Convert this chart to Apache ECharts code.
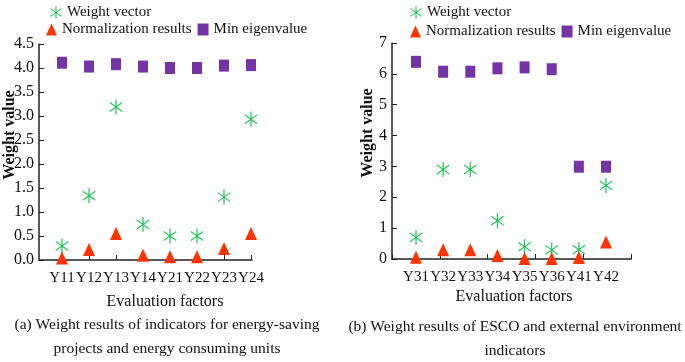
<!DOCTYPE html>
<html>
<head>
<meta charset="utf-8">
<script src="https://cdn.jsdelivr.net/npm/echarts@6/dist/echarts.min.js"></script>
<style>
  html, body { margin: 0; padding: 0; background: #fff; }
  #chart { width: 685px; height: 362px; }
</style>
</head>
<body>
<div id="chart"></div>
<script>
// (a) energy-saving projects / energy consuming units
const catsA = ['Y11', 'Y12', 'Y13', 'Y14', 'Y21', 'Y22', 'Y23', 'Y24'];
const weightA = [0.29, 1.34, 3.19, 0.74, 0.5, 0.5, 1.31, 2.93];
const normA = [0.04, 0.22, 0.55, 0.1, 0.07, 0.07, 0.24, 0.55];
const eigenA = [4.11, 4.03, 4.08, 4.03, 4.0, 4.0, 4.05, 4.06];

// (b) ESCO and external environment
const catsB = ['Y31', 'Y32', 'Y33', 'Y34', 'Y35', 'Y36', 'Y41', 'Y42'];
const weightB = [0.7, 2.9, 2.9, 1.24, 0.4, 0.29, 0.3, 2.38];
const normB = [0.06, 0.3, 0.3, 0.11, 0.02, 0.02, 0.05, 0.55];
const eigenB = [6.39, 6.07, 6.07, 6.18, 6.21, 6.15, 2.99, 2.99];

const FONT = '"Liberation Serif", "Times New Roman", serif';
const GREEN = '#22c45a';
const RED = '#ff3300';
const PURPLE = '#7434a6';
const AXIS = '#222';

// six-armed asterisk, drawn as filled bars
const asterisk = 'path://M4.55 0L5.45 0L5.45 10L4.55 10Z' +
  'M0.72 1.67L9.72 7.67L9.28 8.33L0.28 2.33Z' +
  'M0.28 7.67L9.28 1.67L9.72 2.33L0.72 8.33Z';

const chart = echarts.init(document.getElementById('chart'));

const frameX = (grid, max) => ({
  type: 'value', gridIndex: grid, min: 0, max: max, interval: 1,
  axisLine: { show: true, lineStyle: { color: AXIS, width: 1.5 } },
  axisTick: { show: max > 1, inside: true, length: 5, lineStyle: { color: AXIS } },
  axisLabel: { show: false },
  splitLine: { show: false }
});

const dataX = (grid, cats, ticks) => ({
  type: 'category', gridIndex: grid, data: cats, boundaryGap: false,
  axisLine: { show: false },
  axisTick: { show: ticks, inside: true, length: 5, lineStyle: { color: AXIS } },
  axisLabel: { interval: 0, margin: 11, color: '#111', fontSize: 15, fontFamily: FONT },
  splitLine: { show: false }
});

const frameY = (grid, max, step, digits) => ({
  type: 'value', gridIndex: grid, min: 0, max: max, interval: step,
  axisLine: { show: true, lineStyle: { color: AXIS, width: 1.5 } },
  axisTick: { show: true, inside: true, length: 5, lineStyle: { color: AXIS } },
  axisLabel: {
    margin: 5, color: '#111', fontSize: 16, fontFamily: FONT,
    formatter: v => v.toFixed(digits)
  },
  splitLine: { show: false }
});

const dataY = (grid, max) => ({
  type: 'value', gridIndex: grid, min: 0, max: max, show: false
});

const makeSeries = (axis, w, n, e) => [
  {
    name: 'Weight vector', type: 'scatter', xAxisIndex: axis, yAxisIndex: axis,
    symbol: asterisk, symbolSize: [13, 15], clip: false,
    itemStyle: { color: GREEN, opacity: 1 }, data: w
  },
  {
    name: 'Normalization results', type: 'scatter', xAxisIndex: axis, yAxisIndex: axis,
    symbol: 'triangle', symbolSize: [12, 13], clip: false,
    itemStyle: { color: RED, opacity: 1 }, data: n
  },
  {
    name: 'Min eigenvalue', type: 'scatter', xAxisIndex: axis, yAxisIndex: axis,
    symbol: 'rect', symbolSize: [10, 12], clip: false,
    itemStyle: { color: PURPLE, opacity: 1 }, data: e
  }
];

const legendText = { color: '#111', fontSize: 15, fontFamily: FONT };

const text = (x, y, str, opts) => ({
  type: 'text', x: x, y: y, rotation: (opts && opts.rotation) || 0,
  style: {
    text: str, fill: '#111', align: 'center', verticalAlign: 'middle',
    fontSize: (opts && opts.size) || 15,
    fontWeight: (opts && opts.weight) || 'normal',
    fontFamily: FONT
  }
});

const option = {
  animation: false,
  backgroundColor: '#fff',
  grid: [
    { left: 39, right: 433, top: 44, bottom: 102 },
    { left: 62, right: 434, top: 44, bottom: 102 },
    { left: 392, right: 54, top: 43, bottom: 103 },
    { left: 416, right: 79, top: 43, bottom: 103 }
  ],
  xAxis: [
    frameX(0, 1),
    dataX(1, catsA, true),
    frameX(2, 5),
    dataX(3, catsB, false)
  ],
  yAxis: [
    frameY(0, 4.5, 0.5, 1),
    dataY(1, 4.5),
    frameY(2, 7, 1, 0),
    dataY(3, 7)
  ],
  legend: [
    { left: 45, top: 0, data: ['Weight vector'], itemWidth: 12, itemHeight: 13, textStyle: legendText },
    { left: 41, top: 17, data: ['Normalization results', 'Min eigenvalue'], itemGap: 6, itemWidth: 11, itemHeight: 12, textStyle: legendText },
    { left: 405, top: 0, data: ['Weight vector'], itemWidth: 12, itemHeight: 13, textStyle: legendText },
    { left: 405, top: 19, data: ['Normalization results', 'Min eigenvalue'], itemGap: 6, itemWidth: 11, itemHeight: 12, textStyle: legendText }
  ],
  series: [].concat(
    makeSeries(1, weightA, normA, eigenA),
    makeSeries(3, weightB, normB, eigenB)
  ),
  graphic: [
    text(10, 135, 'Weight value', { rotation: Math.PI / 2, size: 16, weight: 'bold' }),
    text(368, 133, 'Weight value', { rotation: Math.PI / 2, size: 16, weight: 'bold' }),
    text(165, 302, 'Evaluation factors', { size: 16 }),
    text(514, 297, 'Evaluation factors', { size: 16 }),
    text(167, 325, '(a) Weight results of indicators for energy-saving', { size: 15.5 }),
    text(167, 349, 'projects and energy consuming units', { size: 15.5 }),
    text(515, 327, '(b) Weight results of ESCO and external environment', { size: 15.5 }),
    text(515, 351, 'indicators', { size: 15.5 })
  ]
};

chart.setOption(option);
</script>
</body>
</html>
